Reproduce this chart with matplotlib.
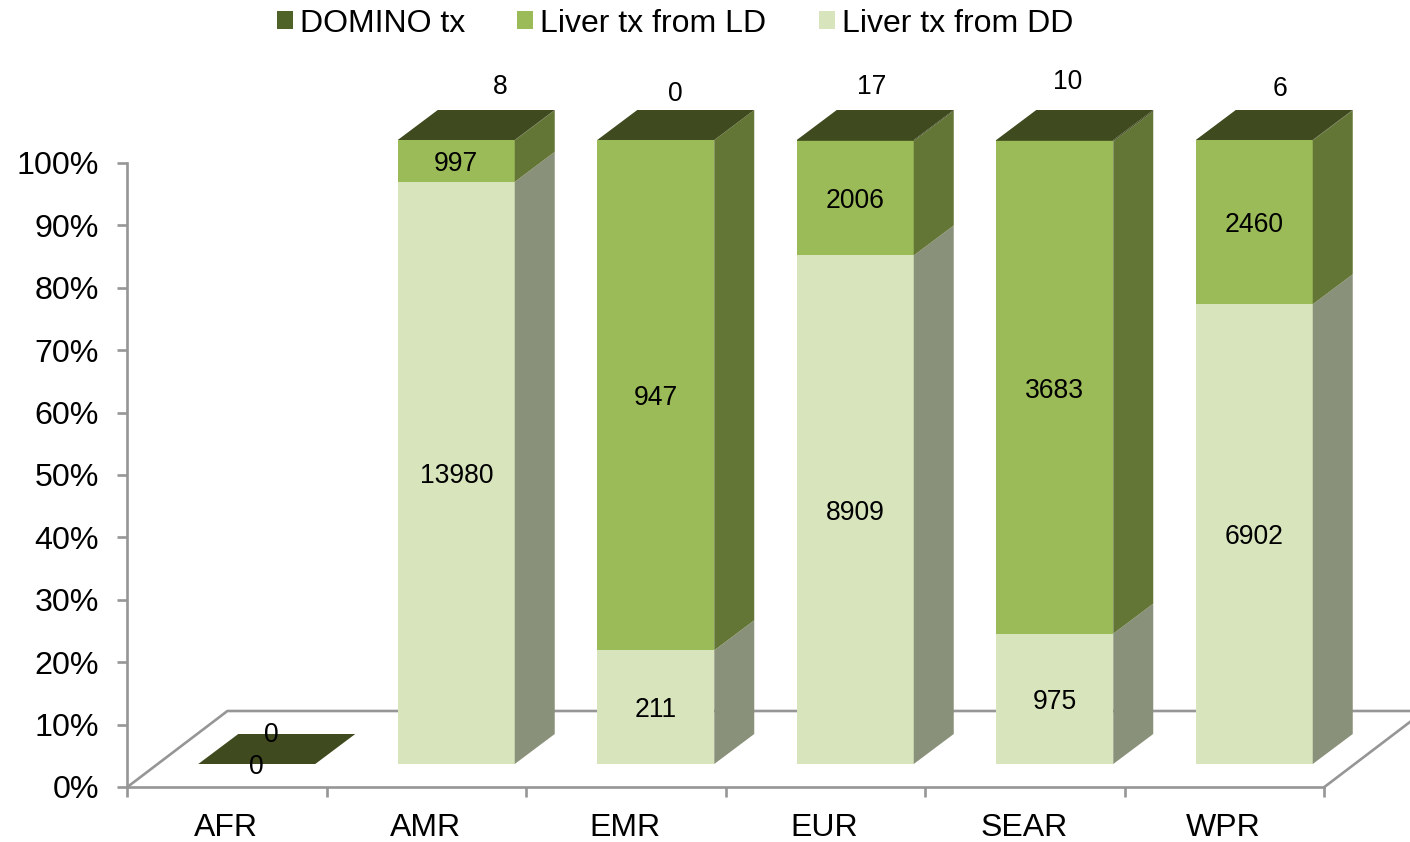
import matplotlib
matplotlib.use("Agg")
import matplotlib.pyplot as plt
import numpy as np
from matplotlib.patches import Patch, Polygon

REGIONS = ["AFR", "AMR", "EMR", "EUR", "SEAR", "WPR"]
LIVER_DD = [0, 13980, 211, 8909, 975, 6902]
LIVER_LD = [0, 997, 947, 2006, 3683, 2460]
DOMINO = [0, 8, 0, 17, 10, 6]
Y_TICKS = [0, 10, 20, 30, 40, 50, 60, 70, 80, 90, 100]

# label nudges for the domino counts, in pixels from bar centre / bar top
DOMINO_NUDGE = [(15, 32), (44, 56), (20, 49), (16, 56), (13, 61), (26, 54)]

COLORS = {
    "dd": ("#D7E4BC", "#8A917A"),
    "ld": ("#9BBB59", "#647636"),
    "domino": ("#4F6228", "#3F4A1E"),
}
TOP_COLOR = "#3F4A1E"
AXIS_COLOR = "#969696"
FONT = "Liberation Sans"
LABEL_SIZE = 19.1
TICK_SIZE = 23.2
AXIS_LW = 1.9

FIG_W, FIG_H = 1410, 842
AX_LEFT, AX_RIGHT = 127.4, 1324.4
AX_TOP, AX_BOTTOM = 163, 787
PX_X = len(REGIONS) / (AX_RIGHT - AX_LEFT)
PX_Y = 100 / (AX_BOTTOM - AX_TOP)


def draw_bar(ax, i, segments):
    # fake 3d: front face from ax.bar, side and top faces as polygons
    w = 117 * PX_X
    x0 = i + 0.5 + 29.6 * PX_X - w / 2
    x1 = x0 + w
    depth_x = 40 * PX_X
    depth_y = 30 * PX_Y
    bottom = 23 * PX_Y
    for value, key in segments:
        front, side = COLORS[key]
        ax.bar(x0, value, w, bottom=bottom, align="edge", color=front,
               linewidth=0, zorder=3, clip_on=False)
        ax.add_patch(Polygon(
            [(x1, bottom), (x1 + depth_x, bottom + depth_y),
             (x1 + depth_x, bottom + value + depth_y), (x1, bottom + value)],
            closed=True, facecolor=side, linewidth=0, zorder=3, clip_on=False))
        bottom += value
    ax.add_patch(Polygon(
        [(x0, bottom), (x1, bottom),
         (x1 + depth_x, bottom + depth_y), (x0 + depth_x, bottom + depth_y)],
        closed=True, facecolor=TOP_COLOR, linewidth=0, zorder=3, clip_on=False))
    return (x0 + x1) / 2, bottom


def main() -> None:
    plt.rcParams["font.family"] = FONT
    fig = plt.figure(figsize=(FIG_W / 100, FIG_H / 100), dpi=100)
    ax = fig.add_axes([
        AX_LEFT / FIG_W,
        (FIG_H - AX_BOTTOM) / FIG_H,
        (AX_RIGHT - AX_LEFT) / FIG_W,
        (AX_BOTTOM - AX_TOP) / FIG_H])
    ax.set_xlim(0, len(REGIONS))
    ax.set_ylim(0, 100)

    # floor of the 3d box
    floor_x = 100 * PX_X
    floor_y = 76 * PX_Y
    n = len(REGIONS)
    ax.plot([0, floor_x, n + floor_x], [0, floor_y, floor_y], color=AXIS_COLOR,
            lw=AXIS_LW, zorder=1, clip_on=False)
    ax.plot([n, n + floor_x], [0, floor_y], color=AXIS_COLOR, lw=AXIS_LW, zorder=1,
            clip_on=False)

    for i in range(n):
        total = LIVER_DD[i] + LIVER_LD[i] + DOMINO[i]
        scale = 100 / total if total else 0
        dd = LIVER_DD[i] * scale
        ld = LIVER_LD[i] * scale
        dom = DOMINO[i] * scale
        cx, top = draw_bar(ax, i, [(dd, "dd"), (ld, "ld"), (dom, "domino")])
        base = 23 * PX_Y

        ax.text(cx, base + dd / 2, str(LIVER_DD[i]), ha="center",
                va="center_baseline", fontsize=LABEL_SIZE, zorder=5)
        if total:
            ax.text(cx, base + dd + ld / 2, str(LIVER_LD[i]), ha="center",
                    va="center_baseline", fontsize=LABEL_SIZE, zorder=5)
        nudge = DOMINO_NUDGE[i]
        ax.annotate(str(DOMINO[i]), (cx, top), xytext=nudge,
                    textcoords="offset pixels", ha="center",
                    va="center_baseline", fontsize=LABEL_SIZE, zorder=5,
                    annotation_clip=False)

    for side in ["top", "right"]:
        ax.spines[side].set_visible(False)
    for side in ["left", "bottom"]:
        ax.spines[side].set_color(AXIS_COLOR)
        ax.spines[side].set_linewidth(AXIS_LW)

    ax.set_yticks(Y_TICKS)
    ax.set_yticklabels([f"{v}%" for v in Y_TICKS], fontsize=TICK_SIZE)
    ax.set_xticks(np.arange(n + 1))
    ax.set_xticklabels([])
    ax.set_xticks(np.arange(n) + 0.5 - 1.0 * PX_X, minor=True)
    ax.set_xticklabels(REGIONS, minor=True, fontsize=23)
    ax.tick_params(axis="both", which="major", color=AXIS_COLOR, width=AXIS_LW,
                   length=7.5)
    ax.tick_params(axis="x", which="minor", length=0, pad=18.5)
    ax.tick_params(axis="y", which="major", pad=13)

    handles = [
        Patch(facecolor=COLORS["domino"][0], label="DOMINO tx"),
        Patch(facecolor=COLORS["ld"][0], label="Liver tx from LD"),
        Patch(facecolor=COLORS["dd"][0], label="Liver tx from DD"),
    ]
    fig.legend(handles=handles, loc="center", ncol=3,
               bbox_to_anchor=(675 / FIG_W, 1 - 23.5 / FIG_H),
               fontsize=23, frameon=False, handlelength=0.5,
               handleheight=0.5, handletextpad=0.22, columnspacing=1.63,
               borderpad=0, borderaxespad=0)

    fig.savefig("out.png", dpi=100)
    plt.close(fig)


if __name__ == "__main__":
    main()
